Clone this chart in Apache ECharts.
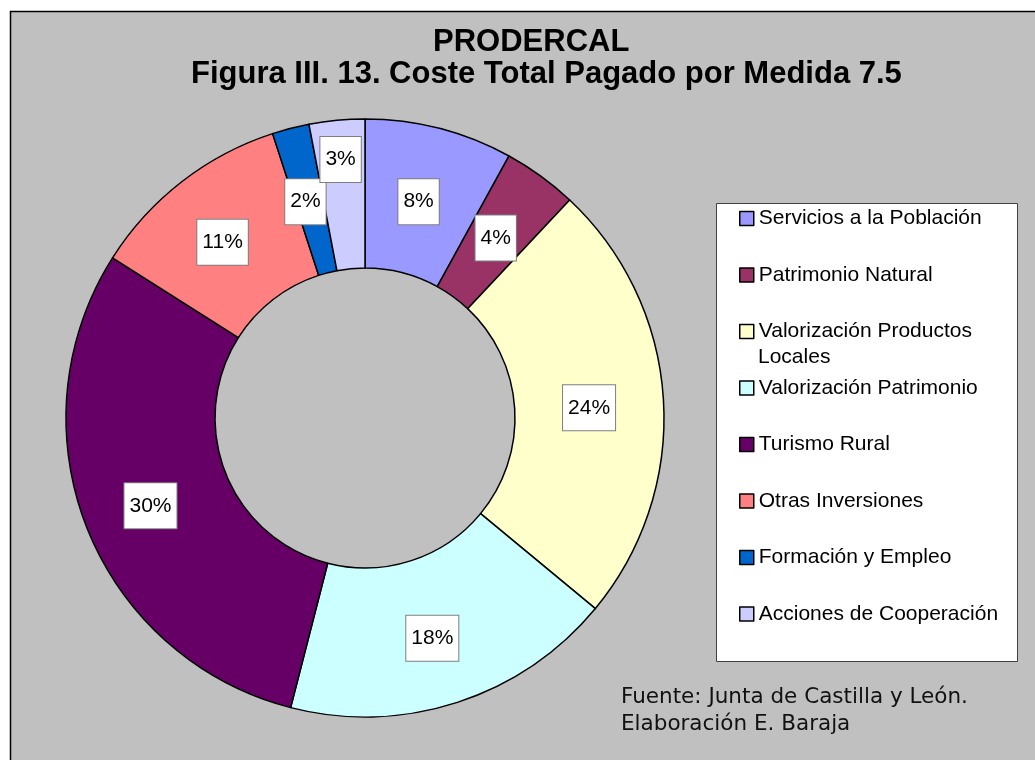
<!DOCTYPE html>
<html>
<head>
<meta charset="utf-8">
<title>PRODERCAL</title>
<script src="https://cdn.jsdelivr.net/npm/echarts@6/dist/echarts.min.js"></script>
<style>
html, body { margin: 0; padding: 0; background: #fff; }
#main { width: 1035px; height: 760px; }
</style>
</head>
<body>
<div id="main"></div>
<script>
// 数据
var categories = ['Servicios a la Población', 'Patrimonio Natural', 'Valorización Productos Locales',
	'Valorización Patrimonio', 'Turismo Rural', 'Otras Inversiones', 'Formación y Empleo', 'Acciones de Cooperación'];
var values = [8, 4, 24, 18, 30, 11, 2, 3];
var colors = ['#9999FF', '#993366', '#FFFFCC', '#CCFFFF', '#660066', '#FF8080', '#0066CC', '#CCCCFF'];
var titleLines = ['PRODERCAL', 'Figura III. 13. Coste Total Pagado por Medida 7.5'];
var sourceText = 'Fuente: Junta de Castilla y León.\nElaboración E. Baraja';

var pieData = [];
for (var i = 0; i < categories.length; i++) {
	pieData.push({ name: categories[i], value: values[i] });
}

var myChart = echarts.init(document.getElementById('main'));
var option = {
	backgroundColor: '#fff',
	animation: false,
	color: colors,
	title: [{
		text: titleLines[0],
		left: 433,
		top: 25,
		padding: 0,
		textStyle: { fontFamily: 'Liberation Sans', fontSize: 31, fontWeight: 'bold', color: '#000', lineHeight: 34 }
	}, {
		text: titleLines[1],
		left: 191,
		top: 57,
		padding: 0,
		textStyle: { fontFamily: 'Liberation Sans', fontSize: 31, fontWeight: 'bold', color: '#000', lineHeight: 34 }
	}],
	legend: {
		orient: 'vertical',
		left: 739,
		top: 208,
		padding: 0,
		itemWidth: 14,
		itemHeight: 14,
		itemGap: 35.5,
		icon: 'rect',
		selectedMode: false,
		data: categories,
		formatter: function(name) {
			// la tercera entrada se parte en dos líneas
			return name === 'Valorización Productos Locales' ? 'Valorización Productos' : name;
		},
		itemStyle: { borderColor: '#000', borderWidth: 1.5 },
		textStyle: { fontFamily: 'Liberation Sans', fontSize: 21, color: '#000' }
	},
	graphic: [{
		type: 'rect',
		z: 0,
		shape: { x: 10.5, y: 11.5, width: 1100, height: 800 },
		style: { fill: '#C0C0C0', stroke: '#000', lineWidth: 1.5 }
	}, {
		type: 'rect',
		z: 1,
		shape: { x: 716.5, y: 203.5, width: 301, height: 458 },
		style: { fill: '#fff', stroke: '#404040', lineWidth: 1 }
	}, {
		type: 'text',
		z: 5,
		x: 758,
		y: 357,
		style: { text: 'Locales', fontFamily: 'Liberation Sans', fontSize: 21, fill: '#000', verticalAlign: 'middle' }
	}, {
		type: 'text',
		z: 5,
		x: 621,
		y: 684,
		style: { text: sourceText, fontFamily: 'DejaVu Sans', fontSize: 21.5, lineHeight: 27, fill: '#111', verticalAlign: 'top' }
	}],
	series: [{
		type: 'pie',
		center: [365, 418],
		radius: [150, 299],
		startAngle: 90,
		clockwise: true,
		data: pieData,
		emphasis: { disabled: true },
		itemStyle: { borderColor: '#000', borderWidth: 1.5 },
		label: {
			show: true,
			position: 'inside',
			formatter: '{c}%',
			fontFamily: 'Liberation Sans',
			fontSize: 21,
			lineHeight: 21,
			color: '#000',
			backgroundColor: '#fff',
			borderColor: '#7f7f7f',
			borderWidth: 1,
			padding: [12, 5]
		},
		labelLine: { show: false },
		labelLayout: function(params) {
			// 3% 的标签往上移，避免和 2% 重叠
			if (params.dataIndex === 7) {
				return { dx: -3, dy: -32 };
			}
			return { dx: -3, dy: 4 };
		}
	}]
};
myChart.setOption(option);
</script>
</body>
</html>
